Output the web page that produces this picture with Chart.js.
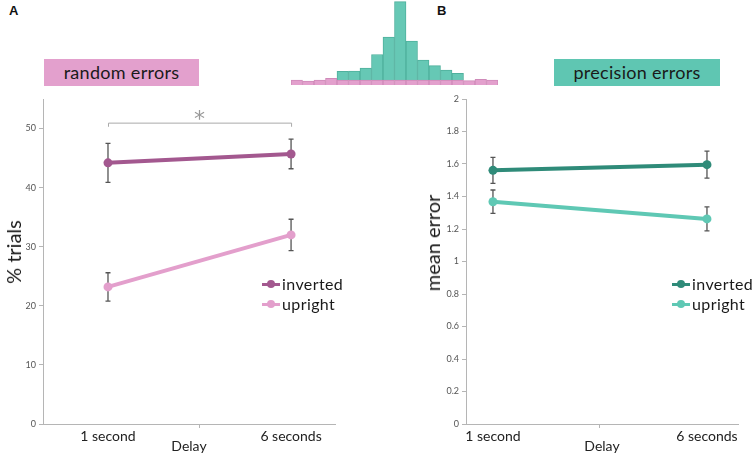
<!DOCTYPE html>
<html>
<head>
<meta charset="utf-8">
<script src="https://cdn.jsdelivr.net/npm/chart.js@4.4.0/dist/chart.umd.min.js"></script>
<style>
  body { margin: 0; background: #fff; font-family: Lato, sans-serif; color: #1a1a1a; }
  #page { position: relative; width: 755px; height: 456px; overflow: hidden; }
  canvas, .abs { position: absolute; }
  .panel-letter { font: bold 13px "Liberation Sans", Arial, sans-serif; color: #111; }
  .tag { height: 27px; line-height: 27px; text-align: center; font-size: 18px; letter-spacing: 0.3px; }
  .ytitle { font-size: 20px; white-space: nowrap; transform: translate(-50%, -50%) rotate(-90deg); }
  .legend-row { height: 20px; line-height: 20px; font-size: 16px; letter-spacing: 0.4px; white-space: nowrap; }
  .mk { display: inline-block; position: relative; width: 18px; height: 20px; vertical-align: top; margin-right: 2px; }
  .mk::before { content: ''; position: absolute; left: 0; right: 0; top: 9px; height: 3px; background: var(--c); }
  .mk::after { content: ''; position: absolute; left: 5px; top: 6px; width: 8px; height: 8px; border-radius: 50%; background: var(--c); }
</style>
</head>
<body>
<div id="page">
  <div class="abs panel-letter" style="left:9px; top:3px;">A</div>
  <div class="abs panel-letter" style="left:437px; top:3px;">B</div>

  <div class="abs tag" style="left:44px; top:59px; width:155px; background:#e3a0cd;">random errors</div>
  <div class="abs tag" style="left:554px; top:59px; width:166px; background:#5fc6b2;">precision errors</div>

  <canvas id="hist" width="207" height="85" style="left:291px; top:0;"></canvas>
  <canvas id="chartA" width="360" height="366" style="left:0; top:90px;"></canvas>
  <canvas id="chartB" width="375" height="366" style="left:380px; top:90px;"></canvas>

  <div class="abs ytitle" style="left:13px; top:252px;">% trials</div>
  <div class="abs ytitle" style="left:432px; top:243px;">mean error</div>

  <div id="legendA" class="abs" style="left:262px; top:274px;"></div>
  <div id="legendB" class="abs" style="left:672px; top:274px;"></div>
</div>

<script>
// x categories
const delays = ['1 second', '6 seconds'];
const delayPos = [0, 1];
const seriesNames = ['inverted', 'upright'];

// A: random errors (% trials), mean and SE
const randomInverted = [44.2, 45.7];
const randomInvertedErr = [3.3, 2.5];
const randomUpright = [23.2, 32.0];
const randomUprightErr = [2.4, 2.65];
const randomTicks = [0, 10, 20, 30, 40, 50];

// B: precision errors (mean error), mean and SE
const precisionInverted = [1.561, 1.596];
const precisionInvertedErr = [0.08, 0.083];
const precisionUpright = [1.368, 1.262];
const precisionUprightErr = [0.072, 0.074];
const precisionTicks = [0, 0.2, 0.4, 0.6, 0.8, 1, 1.2, 1.4, 1.6, 1.8, 2];

// histogram inset (counts per bin)
const histBins = ['1', '2', '3', '4', '5', '6', '7', '8', '9', '10', '11', '12', '13', '14', '15', '16', '17', '18'];
const histRandom = [5, 4, 5, 6.7, 5, 5, 5, 5, 5, 5, 5, 5, 5, 5, 5, 4.3, 5.7, 5];
const histPrecision = [0, 0, 0, 0, 8.7, 9, 12, 25.5, 43, 78.3, 39, 20, 14.3, 10, 6.7, 0, 0, 0];

const COLORS = {
  randomInverted: '#a3588f',
  randomUpright: '#e39fcc',
  precisionInverted: '#2f8b79',
  precisionUpright: '#5fc8b4',
};

Chart.defaults.font.family = 'Lato, sans-serif';

const xTickVals = [delayPos[0], (delayPos[0] + delayPos[1]) / 2, delayPos[1]];
const xTickLabels = [delays[0], '', delays[1]];

const errorBars = {
  id: 'errorBars',
  beforeDatasetsDraw(chart) {
    const { ctx, scales: { x, y } } = chart;
    ctx.save();
    ctx.strokeStyle = '#555';
    ctx.lineWidth = 1.3;
    chart.data.datasets.forEach(ds => {
      ds.data.forEach((p, i) => {
        const px = x.getPixelForValue(p.x);
        const top = y.getPixelForValue(p.y + ds.err[i]);
        const bot = y.getPixelForValue(p.y - ds.err[i]);
        ctx.beginPath();
        ctx.moveTo(px, top); ctx.lineTo(px, bot);
        ctx.moveTo(px - 2.5, top); ctx.lineTo(px + 2.5, top);
        ctx.moveTo(px - 2.5, bot); ctx.lineTo(px + 2.5, bot);
        ctx.stroke();
      });
    });
    ctx.restore();
  }
};

const sigBracket = {
  id: 'sigBracket',
  afterDatasetsDraw(chart, args, opts) {
    const { ctx, scales: { x, y } } = chart;
    const x0 = x.getPixelForValue(delayPos[0]);
    const x1 = x.getPixelForValue(delayPos[1]);
    const yb = y.getPixelForValue(opts.level);
    const yd = y.getPixelForValue(opts.level - opts.drop);
    ctx.save();
    ctx.strokeStyle = '#aaa';
    ctx.lineWidth = 1;
    ctx.beginPath();
    ctx.moveTo(x0 + 0.5, yd); ctx.lineTo(x0 + 0.5, yb + 0.5);
    ctx.lineTo(x1 + 0.5, yb + 0.5); ctx.lineTo(x1 + 0.5, yd);
    ctx.stroke();
    ctx.fillStyle = '#999';
    ctx.font = '22px "DejaVu Sans"';
    ctx.textAlign = 'center';
    ctx.textBaseline = 'alphabetic';
    ctx.fillText(opts.text, (x0 + x1) / 2, yb + 3);
    ctx.restore();
  }
};

function line(label, values, err, color) {
  return {
    label,
    data: values.map((v, i) => ({ x: delayPos[i], y: v })),
    err,
    borderColor: color,
    backgroundColor: color,
    borderWidth: 4,
    pointRadius: 4.5,
    pointStyle: 'circle',
    pointBorderWidth: 0,
    tension: 0,
  };
}

function panelOptions(yMax, yTicks, yWidth, xMin, xMax, padRight, fmt) {
  return {
    responsive: false,
    animation: false,
    events: [],
    layout: { padding: { left: 0, top: 9, right: padRight, bottom: 0 } },
    plugins: { legend: { display: false }, tooltip: { enabled: false } },
    scales: {
      x: {
        type: 'linear', min: xMin, max: xMax,
        afterBuildTicks: s => { s.ticks = xTickVals.map(v => ({ value: v })); },
        afterFit: s => { s.height = 32; },
        ticks: {
          callback: (v, i) => xTickLabels[i],
          autoSkip: false, maxRotation: 0, padding: 0,
          font: { size: 14 }, color: '#222',
        },
        grid: {
          drawOnChartArea: false, tickLength: 4,
          tickColor: c => (c.tick && c.tick.value === xTickVals[1]) ? '#b5b5b5' : 'rgba(0,0,0,0)',
        },
        border: { color: '#b5b5b5' },
        title: { display: true, text: 'Delay', font: { size: 14 }, color: '#222', padding: { top: 0, bottom: 1 } },
      },
      y: {
        min: 0, max: yMax,
        afterBuildTicks: s => { s.ticks = yTicks.map(v => ({ value: v })); },
        afterFit: s => { s.width = yWidth; },
        ticks: { callback: fmt, font: { size: 9 }, color: '#555', padding: 3 },
        grid: { drawOnChartArea: false, tickLength: 4, tickColor: '#b5b5b5' },
        border: { color: '#b5b5b5' },
      },
    },
  };
}

const chartA = new Chart(document.getElementById('chartA'), {
  type: 'line',
  data: {
    datasets: [
      line(seriesNames[0], randomInverted, randomInvertedErr, COLORS.randomInverted),
      line(seriesNames[1], randomUpright, randomUprightErr, COLORS.randomUpright),
    ],
  },
  options: (() => {
    const o = panelOptions(55, randomTicks, 43, -0.355, 1.24, 25, v => String(v));
    o.plugins.sigBracket = { level: 51.0, drop: 0.7, text: '*' };
    return o;
  })(),
  plugins: [errorBars, sigBracket],
});

const chartB = new Chart(document.getElementById('chartB'), {
  type: 'line',
  data: {
    datasets: [
      line(seriesNames[0], precisionInverted, precisionInvertedErr, COLORS.precisionInverted),
      line(seriesNames[1], precisionUpright, precisionUprightErr, COLORS.precisionUpright),
    ],
  },
  options: panelOptions(2, precisionTicks, 86, -0.126, 1.145, 17, v => String(+v.toFixed(1))),
  plugins: [errorBars],
});

function buildLegend(id, chart) {
  const box = document.getElementById(id);
  box.innerHTML = chart.data.datasets.map(ds =>
    `<div class="legend-row"><span class="mk" style="--c:${ds.borderColor}"></span>${ds.label}</div>`
  ).join('');
}
buildLegend('legendA', chartA);
buildLegend('legendB', chartB);

new Chart(document.getElementById('hist'), {
  type: 'bar',
  data: {
    labels: histBins,
    datasets: [
      { data: histRandom, backgroundColor: '#e3a0cd', borderColor: '#cf8ab9', borderWidth: 1 },
      { data: histPrecision, backgroundColor: '#66c8b5', borderColor: '#4fb09d', borderWidth: 1 },
    ],
  },
  options: {
    responsive: false,
    animation: false,
    events: [],
    layout: { padding: 0 },
    datasets: { bar: { barPercentage: 1, categoryPercentage: 1 } },
    plugins: { legend: { display: false }, tooltip: { enabled: false } },
    scales: {
      x: { display: false, stacked: true },
      y: { display: false, stacked: true, min: 0, max: 85 },
    },
  },
});
</script>
</body>
</html>
